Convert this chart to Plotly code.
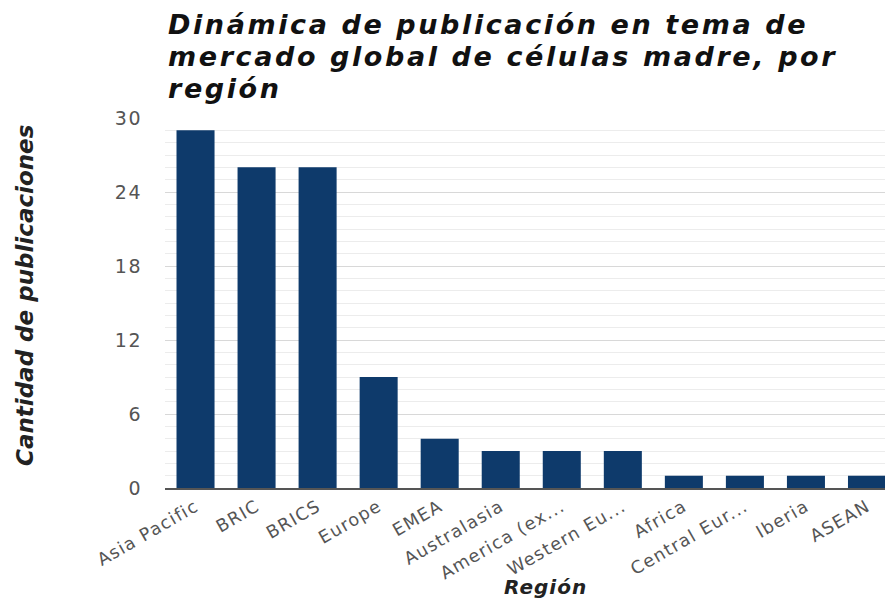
import plotly.graph_objects as go

regions = ["Asia Pacific", "BRIC", "BRICS", "Europe", "EMEA", "Australasia",
           "America (ex...", "Western Eu...", "Africa", "Central Eur...", "Iberia", "ASEAN"]
counts = [29, 26, 26, 9, 4, 3, 3, 3, 1, 1, 1, 1]
y_ticks = [0, 6, 12, 18, 24, 30]
title_lines = ["Dinámica de publicación en tema de",
               "mercado global de células madre, por",
               "región"]

W, H = 885, 601
PLOT_TOP, PLOT_BOT = 118, 488
PLOT_LEFT = 165


def py(p):
    return (PLOT_BOT - p) / (PLOT_BOT - PLOT_TOP)


def px(p):
    return (p - PLOT_LEFT) / (W - PLOT_LEFT)


def spaced(t, ls):
    return f'<span style="letter-spacing:{ls}px">{t}</span>'


fig = go.Figure(go.Bar(x=list(range(len(regions))), y=counts, marker_color="#0e3a6b",
                       marker_line_width=0))

annotations = []
for i, line in enumerate(title_lines):
    annotations.append(dict(
        text=spaced(line, 2.6), xref="paper", yref="paper", x=px(167), y=py(33 + 32 * i),
        xanchor="left", yanchor="bottom", showarrow=False, borderpad=0, yshift=-8,
        font=dict(family="DejaVu Sans", size=27, color="#111", weight="bold", style="italic"),
    ))
annotations.append(dict(
    text="Cantidad de publicaciones", xref="paper", yref="paper",
    x=px(25), y=py(296), xanchor="center", yanchor="middle", textangle=-90,
    showarrow=False, font=dict(family="DejaVu Sans", size=23, color="#222", weight="bold", style="italic"),
))
annotations.append(dict(
    text=spaced("Región", 1), xref="paper", yref="paper",
    x=px(545), y=py(587), xanchor="center", yanchor="middle",
    showarrow=False, font=dict(family="DejaVu Sans", size=20, color="#222", weight="bold", style="italic"),
))

fig.update_layout(
    width=W, height=H,
    margin=dict(l=PLOT_LEFT, r=0, t=PLOT_TOP, b=H - PLOT_BOT, autoexpand=False),
    paper_bgcolor="white", plot_bgcolor="white",
    bargap=0.377,
    showlegend=False,
    font=dict(family="DejaVu Sans", color="#555"),
    annotations=annotations,
)

fig.update_xaxes(
    tickmode="array", tickvals=list(range(len(regions))),
    ticktext=[spaced(r, 1.3) for r in regions],
    tickangle=-30, tickfont=dict(size=17.5, color="#555"),
    range=[-0.5, 11.295], automargin=False,
    showline=True, linecolor="#555", linewidth=1.5,
    showgrid=False, ticks="",
)
fig.update_yaxes(
    range=[0, 30], tickmode="array", tickvals=y_ticks,
    ticktext=[spaced(str(v), 1.5) for v in y_ticks],
    tickfont=dict(size=19, color="#555"), automargin=False,
    ticklabelstandoff=22,
    showgrid=True, gridcolor="#d8d8d8", gridwidth=1,
    minor=dict(dtick=1, showgrid=True, gridcolor="#ececec", gridwidth=1),
    zeroline=False, ticks="",
)

fig.write_html(
    "out.html",
    config={"displayModeBar": False},
    post_script="document.body.style.margin='0';document.body.style.overflow='hidden';",
)
